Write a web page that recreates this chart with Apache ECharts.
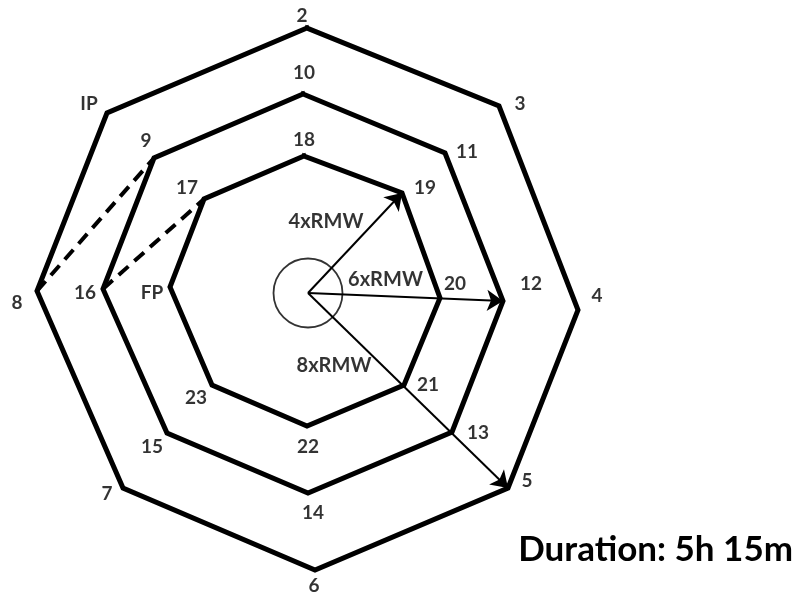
<!DOCTYPE html>
<html>
<head>
<meta charset="utf-8">
<script src="https://cdn.jsdelivr.net/npm/echarts@6/dist/echarts.min.js"></script>
<style>html,body{margin:0;padding:0;background:#fff}#c{width:800px;height:598px}</style>
</head>
<body>
<div id="c"></div>
<script>
// ---- data (diagram coordinates) ----
const outerNames = ['2', '3', '4', '5', '6', '7', '8', 'IP'];
const outerX = [307, 499, 578, 508, 315, 123, 37, 107];
const outerY = [28, 106, 310, 488, 570, 488, 291, 113];

const middleNames = ['10', '11', '12', '13', '14', '15', '16', '9'];
const middleX = [303, 445, 503, 452, 308, 167, 103, 154];
const middleY = [94, 153, 301, 432, 493, 433, 289, 158];

const innerNames = ['18', '19', '20', '21', '22', '23', 'FP', '17'];
const innerX = [304, 402, 440, 404, 307, 212, 170, 204];
const innerY = [156, 193, 298, 385, 426, 385, 287, 199];

const centerPoint = [308, 293];
const dashedLinks = [['8', '9'], ['16', '17']];
const arrowNames = ['4xRMW', '6xRMW', '8xRMW'];
const arrowTargets = ['19', '12', '5'];
const durationText = 'Duration: 5h 15m';

// ---- layout / style (not data) ----
const labelOffsets = {
  '2': [-5, -12], '3': [21, -2], '4': [19, -14], '5': [19, -7], '6': [-1, 16], '7': [-16, 6], '8': [-20, 12], 'IP': [-18, -9],
  '10': [1, -21], '11': [22, -1], '12': [28, -17], '13': [26, 1], '14': [5, 20], '15': [-15, 14], '16': [-18, 4], '9': [-8, -17],
  '18': [0, -16], '19': [23, -5], '20': [15, -14], '21': [24, 0], '22': [1, 21], '23': [-16, 13], 'FP': [-18, 6], '17': [-17, -11]
};
const arrowLabelOffsets = [[-29, -21], [-20, -17], [-74, -25]];

const pts = {};
function addRing(names, xs, ys) {
  names.forEach((n, i) => { pts[n] = [xs[i], ys[i]]; });
  const d = xs.map((x, i) => [x, ys[i]]);
  d.push(d[0]);
  return d;
}
const outerRing = addRing(outerNames, outerX, outerY);
const middleRing = addRing(middleNames, middleX, middleY);
const innerRing = addRing(innerNames, innerX, innerY);

function ringSeries(data) {
  return {
    type: 'line', data: data, showSymbol: false, symbol: 'none', clip: false,
    lineStyle: { color: '#000', width: 5, join: 'miter', cap: 'square' }, silent: true, z: 3
  };
}

const allNames = outerNames.concat(middleNames, innerNames);
const labelData = allNames.map(n => ({
  value: pts[n],
  label: {
    show: true, formatter: n, position: 'inside',
    offset: labelOffsets[n], color: '#000',
    fontFamily: 'Lato', fontSize: 19, fontWeight: 'bold'
  }
}));

const arrowData = arrowTargets.map(t => ({ coords: [centerPoint, pts[t]] }));
const arrowLabelData = arrowTargets.map((t, i) => ({
  value: [(centerPoint[0] + pts[t][0]) / 2, (centerPoint[1] + pts[t][1]) / 2],
  label: {
    show: true, formatter: arrowNames[i], position: 'inside', offset: arrowLabelOffsets[i],
    color: '#000', fontFamily: 'Lato', fontSize: 20, fontWeight: 'bold'
  }
}));
const dashedData = dashedLinks.map(l => ({ coords: [pts[l[0]], pts[l[1]]] }));

const chart = echarts.init(document.getElementById('c'), null, { renderer: 'canvas' });
chart.setOption({
  animation: false,
  backgroundColor: '#fff',
  title: {
    text: durationText, right: 2, top: 527,
    textStyle: { fontFamily: 'Lato', fontWeight: 'bold', fontSize: 35, color: '#000' }
  },
  grid: { left: 0, right: 0, top: 0, bottom: 0 },
  xAxis: { type: 'value', min: 0, max: 800, show: false },
  yAxis: { type: 'value', min: 0, max: 598, inverse: true, show: false },
  series: [
    ringSeries(outerRing),
    ringSeries(middleRing),
    ringSeries(innerRing),
    {
      type: 'lines', coordinateSystem: 'cartesian2d', data: dashedData, silent: true, z: 2,
      lineStyle: { color: '#000', width: 4, type: [13, 8], opacity: 1 }
    },
    {
      type: 'lines', coordinateSystem: 'cartesian2d', data: arrowData, silent: true, z: 4,
      symbol: ['none', 'arrow'], symbolSize: [11, 16],
      lineStyle: { color: '#000', width: 2, opacity: 1 }
    },
    {
      type: 'scatter', data: [centerPoint], symbol: 'circle', symbolSize: 69, silent: true, z: 2,
      itemStyle: { color: 'rgba(0,0,0,0)', borderColor: '#000', borderWidth: 1.8 }
    },
    {
      type: 'scatter', data: labelData, symbolSize: 0, silent: true, z: 5
    },
    {
      type: 'scatter', data: arrowLabelData, symbolSize: 0, silent: true, z: 5
    }
  ]
});
</script>
</body>
</html>
